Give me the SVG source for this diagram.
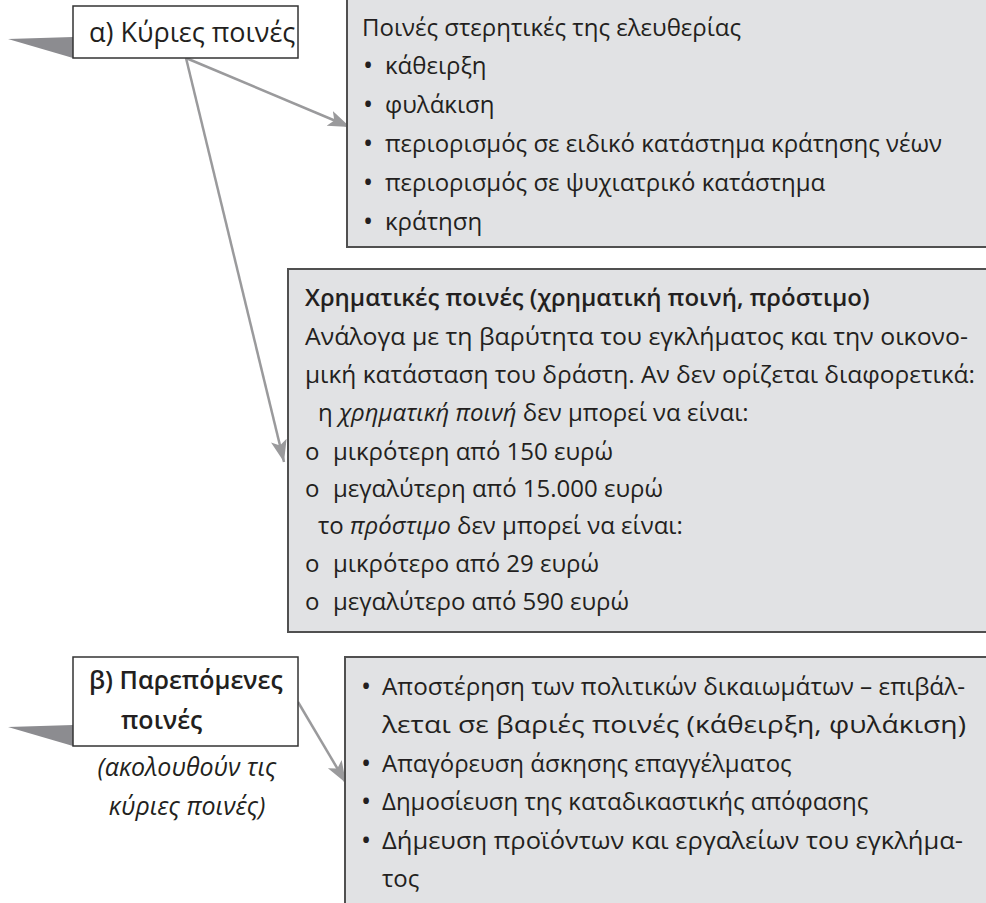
<svg xmlns="http://www.w3.org/2000/svg" width="986" height="903" viewBox="0 0 986 903">
<defs>
<marker id="ah" markerUnits="userSpaceOnUse" markerWidth="24" markerHeight="18" refX="22" refY="8" orient="auto">
<path d="M0,0 L22,8 L0,16 L5,8 z" fill="#9a9a9c"/>
</marker>
<style>
.box{fill:#e1e2e4;stroke:#505050;stroke-width:2}
.lbl{fill:#fff;stroke:#333;stroke-width:1.5}
.tri{fill:#8c8c90}
.t{font-family:"Open Sans","Noto Sans","DejaVu Sans",sans-serif;font-size:24px;fill:#231f20}
.bu{font-size:27px}
.b{font-weight:600}
.i{font-style:italic}
.c{stroke:#9a9a9c;stroke-width:2.5;fill:none;marker-end:url(#ah)}
</style>
</defs>
<rect width="986" height="903" fill="#fff"/>

<g id="connectors">
<line class="c" x1="186" y1="58" x2="350" y2="127"/>
<line class="c" x1="186" y1="58" x2="284" y2="462"/>
<line class="c" x1="298" y1="702" x2="346" y2="783"/>
</g>

<g id="label-a">
<polygon class="tri" points="8,39 73,37 73,58"/>
<rect class="lbl" x="73" y="6" width="225" height="52"/>
<text class="t" x="89" y="42" style="font-size:27px;font-weight:500">α) Κύριες ποινές</text>
</g>

<g id="box-freedom">
<rect class="box" x="347" y="-2" width="650" height="249"/>
<text class="t" x="362" y="36">Ποινές στερητικές της ελευθερίας</text>
<text class="t bu" x="363" y="75">•</text><text class="t" x="385" y="74">κάθειρξη</text>
<text class="t bu" x="363" y="114">•</text><text class="t" x="385" y="113">φυλάκιση</text>
<text class="t bu" x="363" y="153">•</text><text class="t" x="385" y="152">περιορισμός σε ειδικό κατάστημα κράτησης νέων</text>
<text class="t bu" x="363" y="192">•</text><text class="t" x="385" y="191">περιορισμός σε ψυχιατρικό κατάστημα</text>
<text class="t bu" x="363" y="231">•</text><text class="t" x="385" y="230">κράτηση</text>
</g>

<g id="box-money">
<rect class="box" x="288" y="269" width="710" height="363"/>
<text class="t b" x="305" y="306">Χρηματικές ποινές (χρηματική ποινή, πρόστιμο)</text>
<text class="t" x="305" y="345" textLength="663" lengthAdjust="spacingAndGlyphs">Ανάλογα με τη βαρύτητα του εγκλήματος και την οικονο-</text>
<text class="t" x="305" y="383" textLength="670" lengthAdjust="spacingAndGlyphs">μική κατάσταση του δράστη. Αν δεν ορίζεται διαφορετικά:</text>
<text class="t" x="318" y="421">η <tspan class="i">χρηματική ποινή</tspan> δεν μπορεί να είναι:</text>
<text class="t" x="305" y="460">o</text><text class="t" x="333" y="460">μικρότερη από 150 ευρώ</text>
<text class="t" x="305" y="497">o</text><text class="t" x="333" y="497">μεγαλύτερη από 15.000 ευρώ</text>
<text class="t" x="318" y="534">το <tspan class="i">πρόστιμο</tspan> δεν μπορεί να είναι:</text>
<text class="t" x="305" y="572">o</text><text class="t" x="333" y="572">μικρότερο από 29 ευρώ</text>
<text class="t" x="305" y="610">o</text><text class="t" x="333" y="610">μεγαλύτερο από 590 ευρώ</text>
</g>

<g id="label-b">
<polygon class="tri" points="8,727 73,725 73,746"/>
<rect class="lbl" x="73" y="657" width="225" height="89"/>
<text class="t b" x="89" y="689" style="font-size:25px">β) Παρεπόμενες</text>
<text class="t b" x="121" y="729" style="font-size:25px">ποινές</text>
<text class="t i" x="187" y="776" text-anchor="middle" style="font-size:25px">(ακολουθούν τις</text>
<text class="t i" x="187" y="815" text-anchor="middle" style="font-size:25px">κύριες ποινές)</text>
</g>

<g id="box-accessory">
<rect class="box" x="345" y="657" width="650" height="260"/>
<text class="t bu" x="361" y="696">•</text><text class="t" x="382" y="695" textLength="583" lengthAdjust="spacingAndGlyphs">Αποστέρηση των πολιτικών δικαιωμάτων – επιβάλ-</text>
<text class="t" x="382" y="733" textLength="584" lengthAdjust="spacingAndGlyphs">λεται σε βαριές ποινές (κάθειρξη, φυλάκιση)</text>
<text class="t bu" x="361" y="773">•</text><text class="t" x="382" y="772">Απαγόρευση άσκησης επαγγέλματος</text>
<text class="t bu" x="361" y="811">•</text><text class="t" x="382" y="810">Δημοσίευση της καταδικαστικής απόφασης</text>
<text class="t bu" x="361" y="850">•</text><text class="t" x="382" y="849" textLength="581" lengthAdjust="spacingAndGlyphs">Δήμευση προϊόντων και εργαλείων του εγκλήμα-</text>
<text class="t" x="382" y="887">τος</text>
</g>
</svg>
